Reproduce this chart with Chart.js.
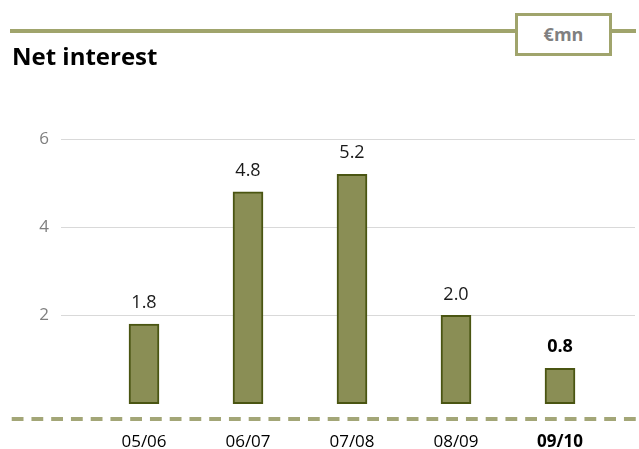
<!DOCTYPE html>
<html>
<head>
<meta charset="utf-8">
<script src="https://cdn.jsdelivr.net/npm/chart.js@4.4.1/dist/chart.umd.min.js"></script>
<style>
body { margin: 0; background: #fff; font-family: "Open Sans", sans-serif; }
#wrap { position: relative; width: 639px; height: 449px; overflow: hidden; }
#rule { position: absolute; left: 10px; top: 29px; width: 626px; height: 4px; background: #a0a46c; }
#unit {
	position: absolute; left: 515px; top: 13px; width: 97px; height: 43px;
	box-sizing: border-box; border: 3px solid #a0a46c; background: #fff;
	color: #808080; font-weight: bold; font-size: 18px; line-height: 37px; text-align: center;
}
#title { position: absolute; left: 12px; top: 44px; font-size: 24px; line-height: 24px; font-weight: bold; color: #000; }
canvas { position: absolute; left: 0; top: 0; }
</style>
</head>
<body>
<div id="wrap">
	<canvas id="my-chart" width="639" height="449"></canvas>
	<div id="rule"></div>
	<div id="unit">€mn</div>
	<div id="title">Net interest</div>
</div>
<script>
var periods = ['05/06', '06/07', '07/08', '08/09', '09/10'];
var netInterest = [1.8, 4.8, 5.2, 2.0, 0.8];
var yTicks = [2, 4, 6];

var font = '"Open Sans", sans-serif';

function setTicks(scale) {
	scale.ticks = yTicks.map(function (v) { return { value: v }; });
}

// value above each bar, on a white patch that breaks the grid line
var valueLabels = {
	id: 'valueLabels',
	afterDatasetsDraw: function (chart) {
		var ctx = chart.ctx;
		var meta = chart.getDatasetMeta(0);
		ctx.save();
		ctx.textAlign = 'center';
		ctx.textBaseline = 'middle';
		meta.data.forEach(function (bar, i) {
			var y = bar.y - 21;
			var last = i === meta.data.length - 1;
			ctx.fillStyle = '#fff';
			ctx.fillRect(bar.x - 30, y - 11, 60, 22);
			ctx.font = (last ? 'bold ' : '') + '18px ' + font;
			ctx.fillStyle = last ? '#000' : '#1a1a1a';
			ctx.fillText(netInterest[i].toFixed(1), bar.x, y);
		});
		ctx.restore();
	}
};

// dashed base line running the full width
var baseLine = {
	id: 'baseLine',
	beforeDatasetsDraw: function (chart) {
		var ctx = chart.ctx;
		var y = chart.chartArea.bottom;
		ctx.save();
		ctx.strokeStyle = '#a3a677';
		ctx.lineWidth = 4;
		ctx.setLineDash([11.8, 7.95]);
		ctx.beginPath();
		ctx.moveTo(11.7, y);
		ctx.lineTo(639, y);
		ctx.stroke();
		ctx.restore();
	}
};

var ctx = document.getElementById('my-chart');

var data = {
	labels: periods,
	datasets: [{
		data: netInterest,
		backgroundColor: '#8a8e55',
		borderColor: '#4a5512',
		borderWidth: 2,
		borderSkipped: false,
		barThickness: 30
	}]
};

var options = {
	responsive: false,
	devicePixelRatio: 1,
	animation: false,
	layout: { padding: { top: 139, left: 0, right: 0, bottom: 0 } },
	plugins: {
		legend: { display: false },
		tooltip: { enabled: false }
	},
	scales: {
		x: {
			grid: { display: false },
			border: { display: false },
			afterFit: function (s) { s.height = 30; },
			ticks: {
				padding: 5,
				color: '#000',
				font: function (c) {
					return { family: font, size: 17, weight: c.index === 4 ? 'bold' : 'normal' };
				}
			}
		},
		y: {
			min: -0.35,
			max: 6,
			afterBuildTicks: setTicks,
			afterFit: function (s) { s.width = 92; },
			border: { display: false },
			grid: { color: '#d9d9d9', lineWidth: 1, drawTicks: true, tickLength: 31 },
			ticks: { padding: 12, color: '#7f7f7f', font: { family: font, size: 17 } }
		},
		y2: {
			position: 'right',
			min: -0.35,
			max: 6,
			afterBuildTicks: setTicks,
			afterFit: function (s) { s.width = 27; },
			border: { display: false },
			grid: { color: '#d9d9d9', lineWidth: 1, drawOnChartArea: false, drawTicks: true, tickLength: 23 },
			ticks: { display: false }
		}
	}
};

var myBarChart = new Chart(ctx, {
	type: 'bar',
	data: data,
	options: options,
	plugins: [baseLine, valueLabels]
});
</script>
</body>
</html>
